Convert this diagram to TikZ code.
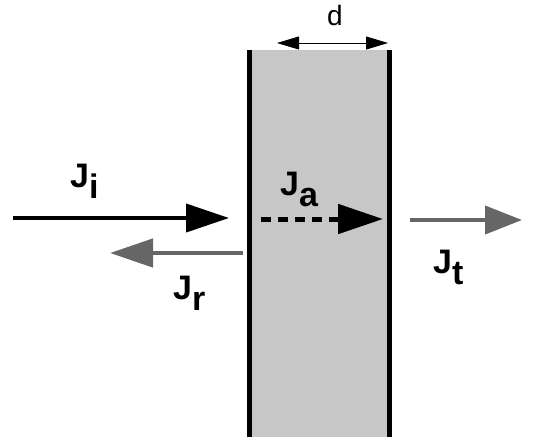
\documentclass[tikz,border=0pt]{standalone}
\usepackage{fontspec}
\setmainfont{Liberation Sans}
\usetikzlibrary{arrows.meta, positioning}

\newcommand{\fluxlab}[1]{J\raisebox{-11pt}{#1}}

\begin{document}
\begin{tikzpicture}[x=1pt, y=-1pt,
  fluxlabel/.style={font=\fontsize{34}{34}\selectfont\bfseries, inner sep=0pt, anchor=base west},
  fluxarrow/.style={line width=4pt, -{Triangle[length=43pt, width=28pt]}},
  grayflux/.style={fluxarrow, draw=black!60},
  wall/.style={line width=5pt}]

\useasboundingbox (0,0) rectangle (537,440);

% --- Slab (shaded, behind everything) ---
\fill[black!22] (249,50) rectangle (389,437);
\draw[wall] (249,50) -- (249,437);
\draw[wall] (389,50) -- (389,437);

% --- Thickness d ---
\coordinate (d-left) at (277,43);
\coordinate (d-right) at (388,43);
\draw[line width=0.9pt, {Triangle[length=22pt, width=13pt]}-{Triangle[length=22pt, width=13pt]}] (d-left) -- (d-right);
\node[font=\fontsize{28}{28}\selectfont, inner sep=0pt, anchor=base] (d-lab) at (335,25) {d};

% --- Incident flux ---
\coordinate (ji-start) at (13,218);
\coordinate (ji-end) at (229,218);
\draw[fluxarrow] (ji-start) -- (ji-end);
\node[fluxlabel] (ji-lab) at (70,187) {\fluxlab{i}};

% --- Reflected flux ---
\coordinate (jr-start) at (243,253);
\coordinate (jr-end) at (110,253);
\draw[grayflux, line width=4.5pt] (jr-start) -- (jr-end);
\node[fluxlabel] (jr-lab) at (173,299) {\fluxlab{r}};

% --- Absorbed flux (inside slab) ---
\coordinate (ja-start) at (261,219);
\coordinate (ja-end) at (383,219);
\draw[fluxarrow, line width=5pt, dash pattern=on 10pt off 7pt,
  -{Triangle[length=45pt, width=29pt]}] (ja-start) -- (ja-end);
\node[fluxlabel] (ja-lab) at (280,195) {\fluxlab{a}};

% --- Transmitted flux ---
\coordinate (jt-start) at (410,220);
\coordinate (jt-end) at (522,220);
\draw[grayflux, -{Triangle[length=37pt, width=28pt]}] (jt-start) -- (jt-end);
\node[fluxlabel] (jt-lab) at (433,273) {\fluxlab{t}};

\end{tikzpicture}
\end{document}
